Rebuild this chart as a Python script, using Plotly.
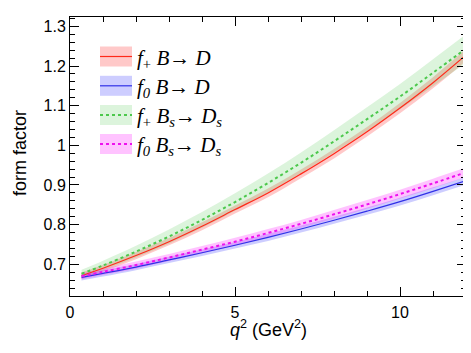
import plotly.graph_objects as go

# q^2 sampling points (GeV^2)
q2 = [0.35, 1, 2, 3, 4, 5, 6, 7, 8, 9, 10, 11, 12]

# central values
fp_BD = [0.671, 0.690, 0.722, 0.757, 0.796, 0.838, 0.880, 0.928, 0.979, 1.034, 1.094, 1.158, 1.228]
f0_BD = [0.667, 0.677, 0.693, 0.711, 0.729, 0.748, 0.768, 0.789, 0.811, 0.834, 0.858, 0.884, 0.911]
fp_BsDs = [0.676, 0.697, 0.732, 0.770, 0.812, 0.857, 0.905, 0.956, 1.010, 1.066, 1.123, 1.183, 1.244]
f0_BsDs = [0.670, 0.681, 0.698, 0.717, 0.737, 0.757, 0.779, 0.802, 0.826, 0.851, 0.877, 0.904, 0.932]

# uncertainty half widths
err_fp_BD = [0.008, 0.008, 0.009, 0.009, 0.010, 0.010, 0.011, 0.011, 0.012, 0.012, 0.013, 0.014, 0.015]
err_f0_BD = [0.008, 0.008, 0.008, 0.008, 0.008, 0.008, 0.009, 0.009, 0.009, 0.009, 0.010, 0.010, 0.010]
err_fp_BsDs = [0.010, 0.012, 0.015, 0.018, 0.020, 0.022, 0.024, 0.026, 0.028, 0.030, 0.032, 0.034, 0.036]
err_f0_BsDs = [0.008, 0.008, 0.009, 0.009, 0.009, 0.010, 0.010, 0.010, 0.011, 0.011, 0.011, 0.012, 0.012]

labels = [
    "<i>f</i><sub>+</sub> <i>B</i>→ <i>D</i>",
    "<i>f</i><sub><i>0</i></sub> <i>B</i>→ <i>D</i>",
    "<i>f</i><sub>+</sub> <i>B<sub>s</sub></i>→ <i>D<sub>s</sub></i>",
    "<i>f</i><sub><i>0</i></sub> <i>B<sub>s</sub></i>→ <i>D<sub>s</sub></i>",
]
x_title = "<i>q</i><sup>2</sup> (GeV<sup>2</sup>)"
y_title = "form factor"

series = [
    (fp_BD, err_fp_BD, "#ff2a1a", "rgba(255,60,60,0.28)", "solid", 1.2),
    (f0_BD, err_f0_BD, "#3030e8", "rgba(60,60,255,0.26)", "solid", 1.2),
    (fp_BsDs, err_fp_BsDs, "#4cc84c", "rgba(80,200,80,0.20)", "dot", 2),
    (f0_BsDs, err_f0_BsDs, "#ee10ee", "rgba(255,40,255,0.28)", "dot", 2),
]

fig = go.Figure()
for vals, err, lc, fc, dash, w in series:
    up = [v + e for v, e in zip(vals, err)]
    lo = [v - e for v, e in zip(vals, err)]
    fig.add_trace(go.Scatter(
        x=q2, y=lo, mode="lines", line=dict(width=0, shape="spline"),
        showlegend=False, hoverinfo="skip"))
    fig.add_trace(go.Scatter(
        x=q2, y=up, mode="lines", fill="tonexty", fillcolor=fc,
        line=dict(width=0, shape="spline"), showlegend=False, hoverinfo="skip"))
for vals, err, lc, fc, dash, w in series:
    fig.add_trace(go.Scatter(
        x=q2, y=vals, mode="lines",
        line=dict(color=lc, width=w, dash=dash, shape="spline"),
        showlegend=False))

# page body has an 8px margin: figure origin is at (8, 8) in the window
OFF = 8
X0, X1 = 70, 466
Y0, Y1 = 296, 17
def px(x):
    return (x - X0) / (X1 - X0)
def py(y):
    return (Y0 - y) / (Y0 - Y1)

centers = [56.5, 85.8, 115, 144]
for (vals, err, lc, fc, dash, w), yc, lab in zip(series, centers, labels):
    fig.add_shape(type="rect", xref="paper", yref="paper",
                  x0=px(100), x1=px(132), y0=py(yc + 10), y1=py(yc - 10),
                  fillcolor=fc, line=dict(width=0))
    fig.add_shape(type="line", xref="paper", yref="paper",
                  x0=px(100), x1=px(132), y0=py(yc), y1=py(yc),
                  line=dict(color=lc, width=w, dash=dash))
    fig.add_annotation(xref="paper", yref="paper", x=px(135), y=py(yc + 2),
                       xanchor="left", yanchor="middle", text=lab, showarrow=False,
                       font=dict(family="Liberation Serif", size=21, color="black"))

# axis titles
fig.add_annotation(xref="paper", yref="paper", x=px(268), y=py(328),
                   xanchor="center", yanchor="middle", text=x_title, showarrow=False,
                   font=dict(family="Liberation Sans", size=18, color="black"))
fig.add_annotation(xref="paper", yref="paper", x=px(20), y=py(153),
                   xanchor="center", yanchor="middle", text=y_title, showarrow=False,
                   textangle=-90,
                   font=dict(family="Liberation Sans", size=18, color="black"))

axis_common = dict(showline=True, linecolor="black", linewidth=1, mirror="ticks",
                   ticks="inside", ticklen=9, tickcolor="black", showgrid=False,
                   zeroline=False, automargin=False,
                   tickfont=dict(family="Liberation Sans", size=16, color="black"))

fig.update_xaxes(range=[0, 12], dtick=5, tick0=0, ticklabelstandoff=2,
                 minor=dict(dtick=1, ticks="inside", ticklen=5, tickcolor="black"),
                 **axis_common)
fig.update_yaxes(range=[0.62, 1.3237], dtick=0.1, tick0=0.7,
                 minor=dict(dtick=0.02, ticks="inside", ticklen=5, tickcolor="black"),
                 **axis_common)

fig.update_layout(width=471 - OFF, height=353 - OFF,
                  margin=dict(l=70 - OFF, r=5, t=17 - OFF, b=57),
                  plot_bgcolor="white", paper_bgcolor="white")

fig.write_html("out.html")
